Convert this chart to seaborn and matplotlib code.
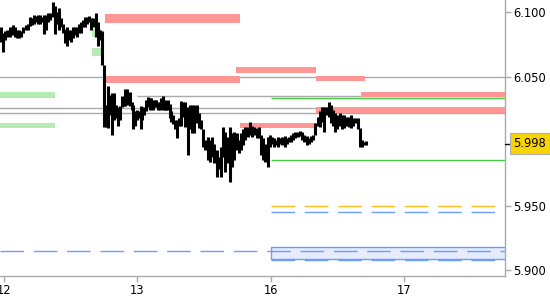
import matplotlib
matplotlib.use("Agg")
import matplotlib.pyplot as plt
import matplotlib.transforms as mtransforms
from matplotlib.patches import Rectangle
import seaborn as sns
import pandas as pd

# ---- data -------------------------------------------------------------
day_labels = ["12", "13", "16", "17"]
day_pos = [0, 1, 2, 3]

bar_time = [-0.022, -0.007, 0.007, 0.022, 0.045, 0.067, 0.082, 0.097, 0.112, 0.127,
            0.142, 0.165, 0.180, 0.195, 0.210, 0.225, 0.240, 0.255, 0.270, 0.285,
            0.300, 0.315, 0.330, 0.345, 0.367, 0.382, 0.397, 0.412, 0.427, 0.442,
            0.457, 0.472, 0.487, 0.502, 0.517, 0.532, 0.547, 0.562, 0.577, 0.592,
            0.607, 0.622, 0.637, 0.652, 0.667, 0.689, 0.704, 0.719, 0.734, 0.749,
            0.764, 0.779, 0.794, 0.809, 0.824, 0.839, 0.854, 0.869, 0.884, 0.899,
            0.906, 0.921, 0.936, 0.944, 0.959, 0.966, 0.981, 0.996, 1.011, 1.026,
            1.034, 1.049, 1.064, 1.079, 1.094, 1.101, 1.116, 1.131, 1.139, 1.154,
            1.169, 1.176, 1.191, 1.206, 1.213, 1.228, 1.243, 1.251, 1.266, 1.281,
            1.296, 1.311, 1.326, 1.341, 1.356, 1.378, 1.393, 1.408, 1.423, 1.446,
            1.461, 1.476, 1.491, 1.506, 1.528, 1.543, 1.558, 1.573, 1.596, 1.610,
            1.625, 1.640, 1.655, 1.678, 1.693, 1.708, 1.723, 1.745, 1.760, 1.775,
            1.790, 1.805, 1.828, 1.843, 1.858, 1.873, 1.895, 1.910, 1.925, 1.940,
            1.955, 1.978, 1.993, 2.007, 2.022, 2.037, 2.052, 2.067, 2.082, 2.105,
            2.120, 2.135, 2.150, 2.165, 2.180, 2.202, 2.217, 2.232, 2.247, 2.270,
            2.285, 2.300, 2.315, 2.330, 2.352, 2.367, 2.382, 2.397, 2.419, 2.434,
            2.449, 2.464, 2.479, 2.494, 2.517, 2.532, 2.547, 2.569, 2.584, 2.599,
            2.614, 2.629, 2.652, 2.667, 2.682, 2.697, 2.712]

bar_high = [6.088, 6.084, 6.085, 6.086, 6.088, 6.090, 6.088, 6.086, 6.086, 6.085,
            6.088, 6.090, 6.091, 6.096, 6.095, 6.098, 6.097, 6.098, 6.098, 6.096,
            6.098, 6.098, 6.099, 6.099, 6.108, 6.105, 6.100, 6.103, 6.095, 6.091,
            6.087, 6.088, 6.086, 6.086, 6.088, 6.088, 6.088, 6.091, 6.092, 6.094,
            6.096, 6.096, 6.097, 6.095, 6.095, 6.099, 6.092, 6.086, 6.085, 6.059,
            6.028, 6.043, 6.036, 6.037, 6.037, 6.028, 6.026, 6.027, 6.035, 6.032,
            6.040, 6.040, 6.036, 6.038, 6.030, 6.028, 6.023, 6.024, 6.023, 6.027,
            6.026, 6.026, 6.032, 6.034, 6.033, 6.033, 6.032, 6.032, 6.032, 6.030,
            6.030, 6.033, 6.035, 6.032, 6.030, 6.032, 6.029, 6.023, 6.020, 6.016,
            6.016, 6.018, 6.031, 6.030, 6.030, 6.026, 6.028, 6.028, 6.028, 6.028,
            6.022, 6.016, 6.009, 6.001, 6.003, 6.001, 6.003, 5.998, 5.993, 5.988,
            5.995, 6.011, 6.007, 6.003, 6.011, 6.006, 6.007, 6.006, 6.001, 6.006,
            6.009, 6.011, 6.011, 6.015, 6.012, 6.011, 6.010, 6.011, 6.005, 6.002,
            5.998, 6.003, 6.005, 6.003, 6.002, 6.001, 6.003, 6.002, 6.003, 6.004,
            6.002, 6.003, 6.005, 6.006, 6.007, 6.007, 6.008, 6.007, 6.005, 6.004,
            6.002, 6.004, 6.005, 6.014, 6.019, 6.023, 6.026, 6.026, 6.026, 6.030,
            6.028, 6.024, 6.022, 6.020, 6.022, 6.020, 6.020, 6.019, 6.019, 6.020,
            6.018, 6.018, 6.018, 6.010, 6.001, 5.999, 6.000]

bar_low = [6.077, 6.069, 6.078, 6.081, 6.081, 6.082, 6.081, 6.080, 6.080, 6.081,
           6.084, 6.086, 6.086, 6.089, 6.090, 6.091, 6.092, 6.091, 6.091, 6.092,
           6.083, 6.086, 6.092, 6.094, 6.096, 6.083, 6.091, 6.086, 6.088, 6.084,
           6.076, 6.074, 6.078, 6.077, 6.080, 6.082, 6.081, 6.084, 6.084, 6.088,
           6.088, 6.091, 6.092, 6.086, 6.088, 6.081, 6.074, 6.078, 6.059, 6.011,
           6.011, 6.010, 6.020, 6.005, 6.016, 6.018, 6.012, 6.016, 6.026, 6.027,
           6.027, 6.028, 6.030, 6.027, 6.024, 6.009, 6.012, 6.016, 6.018, 6.009,
           6.016, 6.020, 6.023, 6.026, 6.024, 6.026, 6.024, 6.026, 6.026, 6.024,
           6.024, 6.026, 6.024, 6.024, 6.024, 6.024, 6.018, 6.015, 6.013, 6.009,
           6.002, 6.012, 6.012, 6.019, 6.011, 5.989, 6.009, 6.006, 6.006, 6.014,
           6.010, 6.009, 5.995, 5.993, 5.985, 5.984, 5.988, 5.983, 5.972, 5.978,
           5.972, 5.988, 5.976, 5.983, 5.968, 5.980, 5.985, 5.993, 5.991, 5.993,
           5.997, 6.001, 6.003, 6.005, 6.003, 6.005, 6.002, 6.002, 5.989, 5.985,
           5.984, 5.980, 5.995, 5.998, 5.995, 5.997, 5.995, 5.998, 5.997, 5.995,
           5.998, 5.999, 5.999, 6.001, 6.002, 6.003, 6.004, 6.001, 5.999, 5.997,
           5.998, 5.999, 6.001, 6.005, 6.012, 6.011, 6.015, 6.007, 6.020, 6.019,
           6.014, 6.012, 6.007, 6.009, 6.012, 6.009, 6.010, 6.012, 6.011, 6.010,
           6.012, 6.014, 6.009, 5.995, 5.995, 5.997, 5.997]

last_price = 5.998

# zones: (start, end, low, high)
red_zones = [(0.757, 1.768, 6.0917, 6.0984),
             (0.757, 1.768, 6.0452, 6.0504),
             (1.738, 2.337, 6.0530, 6.0576),
             (2.337, 2.704, 6.0467, 6.0505),
             (2.674, 3.760, 6.0339, 6.0380),
             (2.337, 3.760, 6.0215, 6.0266),
             (1.768, 2.337, 6.0103, 6.0143)]
green_zones = [(-0.05, 0.382, 6.0336, 6.0380),
               (-0.05, 0.382, 6.0101, 6.0140),
               (0.659, 0.727, 6.0809, 6.0866),
               (0.659, 0.727, 6.0661, 6.0719)]
blue_zone = (2.0, 3.760, 5.9088, 5.9176)

# levels: (start, end, price)
gray_levels = [(-0.05, 3.76, 6.0497), (0.996, 3.76, 6.0349),
               (-0.05, 3.76, 6.0254), (-0.05, 3.76, 6.0217)]
green_levels = [(2.0, 3.76, 6.0331), (2.0, 3.76, 5.9853)]
orange_dashed = [(2.0, 3.76, 5.9496)]
blue_dashed = [(2.0, 3.76, 5.9447), (-0.03, 3.76, 5.9150), (2.0, 3.76, 5.9078)]

yticks = [5.900, 5.950, 6.050, 6.100]

# ---- figure -------------------------------------------------------------
sns.set_theme(style="white")
plt.rcParams["font.family"] = ["DejaVu Sans"]

fig = plt.figure(figsize=(5.5, 3.0), dpi=100)
ax = fig.add_axes([0.0, 0.08, 505 / 550, 0.92])

RED = "#ff9696"
GREEN = "#b4ecb4"

for x0, x1, lo, hi in red_zones:
    ax.add_patch(Rectangle((x0, lo), x1 - x0, hi - lo, facecolor=RED,
                           edgecolor="none", zorder=1))
for x0, x1, lo, hi in green_zones:
    ax.add_patch(Rectangle((x0, lo), x1 - x0, hi - lo, facecolor=GREEN,
                           edgecolor="none", zorder=1))
x0, x1, lo, hi = blue_zone
ax.add_patch(Rectangle((x0, lo), x1 - x0, hi - lo, facecolor="#e6ecfc",
                       edgecolor="#6b9bff", lw=1.0, zorder=1))

for x0, x1, p in gray_levels:
    ax.hlines(p, x0, x1, color="#aaaaaa", lw=1.0, zorder=0.5)
for x0, x1, p in green_levels:
    ax.hlines(p, x0, x1, color="#44cc44", lw=1.0, zorder=2)
for x0, x1, p in orange_dashed:
    ax.plot([x0, x1], [p, p], color="#ffbb22", lw=1.0, dashes=(17, 7), zorder=2)
for x0, x1, p in blue_dashed:
    ax.plot([x0, x1], [p, p], color="#6b9bff", lw=1.0, dashes=(17, 7), zorder=2)

df = pd.DataFrame({"t": bar_time, "high": bar_high, "low": bar_low})
ax.vlines(df["t"], df["low"], df["high"], color="black", lw=2.2, zorder=3)

ax.set_xlim(-0.030, 3.753)
ax.set_ylim(5.8954, 6.1093)

ax.set_xticks(day_pos)
ax.set_xticklabels(day_labels)
ax.yaxis.tick_right()
ax.set_yticks(yticks)
ax.set_yticklabels([f"{v:.3f}" for v in yticks])
ax.tick_params(axis="both", which="both", direction="out", length=4,
               width=1, color="#aaaaaa", labelsize=8.3, labelcolor="black",
               pad=2, bottom=True, right=True, left=False, top=False)

for side in ["left", "top"]:
    ax.spines[side].set_visible(False)
for side in ["right", "bottom"]:
    ax.spines[side].set_visible(True)
    ax.spines[side].set_color("#aaaaaa")
    ax.spines[side].set_linewidth(1.0)

trans = mtransforms.blended_transform_factory(ax.transAxes, ax.transData)
ax.plot([1.0, 1.013], [last_price, last_price], color="black", lw=1.0,
        transform=trans, clip_on=False, zorder=5)
ax.text(1.017, last_price, f"{last_price:.3f}", transform=trans, fontsize=8.3,
        ha="left", va="center", color="black", zorder=6,
        bbox=dict(boxstyle="square,pad=0.32", facecolor="#f8d400",
                  edgecolor="#b0b0b0", lw=0.8))

fig.savefig("out.png", dpi=100)
